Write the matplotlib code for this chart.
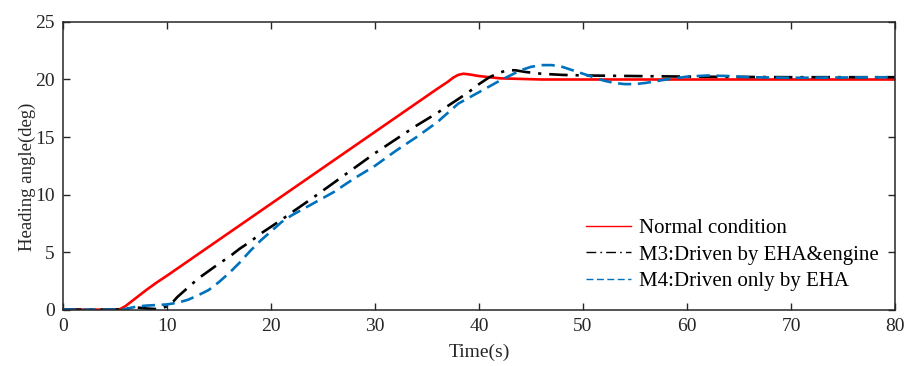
import numpy as np
import matplotlib.pyplot as plt

plt.rcParams['font.family'] = ['Liberation Serif', 'DejaVu Serif']

# Normal condition
t_red = [0, 5, 5.5, 6, 6.5, 7, 8, 9, 10, 12, 14, 16, 18, 20, 22, 24, 26, 28, 30,
         32, 34, 36, 37, 37.5, 38, 38.5, 39, 40, 41, 42, 44, 46, 80]
v_red = [0, 0, 0.05, 0.3, 0.65, 1.0, 1.7, 2.35, 2.95, 4.2, 5.45, 6.7, 7.95, 9.2,
         10.45, 11.7, 12.95, 14.2, 15.45, 16.7, 17.95, 19.2, 19.8, 20.15, 20.4,
         20.5, 20.45, 20.3, 20.2, 20.1, 20.05, 20.0, 20.0]

# M3: Driven by EHA&engine
t_m3 = [0, 5, 6, 6.5, 7, 7.5, 8, 9, 9.5, 10, 10.6, 11, 12, 13, 14, 15, 16, 17, 18,
        19, 20, 21, 22, 24, 26, 28, 30, 32, 34, 36, 37, 38, 39, 40, 41, 42, 42.7,
        43.5, 44.5, 46, 48, 50, 55, 60, 70, 80]
v_m3 = [0, 0, 0.05, 0.15, 0.2, 0.15, 0.1, 0.05, 0.1, 0.3, 0.7, 1.1, 1.9, 2.7, 3.35,
        4.0, 4.6, 5.3, 5.9, 6.6, 7.2, 7.8, 8.45, 9.7, 11.0, 12.3, 13.6, 14.8, 16.0,
        17.1, 17.7, 18.3, 18.9, 19.6, 20.2, 20.6, 20.8, 20.8, 20.65, 20.5, 20.4,
        20.35, 20.3, 20.25, 20.2, 20.2]

# M4: Driven only by EHA
t_m4 = [0, 5, 6, 7, 8, 9, 10, 11, 12, 13, 14, 15, 16, 17, 18, 19, 20, 21, 22, 24,
        26, 28, 30, 32, 34, 36, 38, 40, 42, 43, 44, 45, 46, 47, 48, 49, 50, 51, 52,
        53, 54, 55, 56, 57, 58, 60, 62, 64, 66, 70, 80]
v_m4 = [0, 0, 0.05, 0.25, 0.35, 0.4, 0.45, 0.6, 0.85, 1.25, 1.7, 2.4, 3.2, 4.1, 5.1,
        6.0, 6.8, 7.6, 8.2, 9.2, 10.2, 11.4, 12.5, 13.8, 15.0, 16.3, 17.9, 18.9,
        19.9, 20.35, 20.8, 21.1, 21.25, 21.25, 21.1, 20.8, 20.5, 20.2, 19.9, 19.7,
        19.6, 19.6, 19.7, 19.85, 20.0, 20.25, 20.35, 20.3, 20.2, 20.15, 20.2]

labels = ['Normal condition', 'M3:Driven by EHA&engine', 'M4:Driven only by EHA']

fig = plt.figure(figsize=(9.18, 3.66), dpi=100)
ax = fig.add_axes([0.0686, 0.154, 0.9064, 0.786])

ax.plot(t_red, v_red, color='#FF0000', linewidth=1.9, label=labels[0])
ax.plot(t_m3, v_m3, color='black', linewidth=1.9, dashes=(7, 3, 1.2, 3), label=labels[1])
ax.plot(t_m4, v_m4, color='#0072BD', linewidth=1.9, dashes=(5, 2.5), label=labels[2])

ax.set_xlim(0, 80)
ax.set_ylim(0, 25)
ax.set_xticks(np.arange(0, 81, 10))
ax.set_yticks(np.arange(0, 26, 5))
ax.tick_params(direction='in', top=True, right=True, length=5, width=1,
               labelsize=14, colors='#262626', pad=6)
for s in ax.spines.values():
    s.set_color('#262626')
    s.set_linewidth(1.1)

ax.set_xlabel('Time(s)', fontsize=14, color='#262626', labelpad=6)
ax.set_ylabel('Heading angle(deg)', fontsize=13.5, color='#262626')
ax.yaxis.set_label_coords(-0.033, 0.46)

leg = ax.legend(loc='lower right', bbox_to_anchor=(0.99, 0.035), borderaxespad=0,
                frameon=False, fontsize=15, handlelength=2.2, handletextpad=0.35,
                labelspacing=0.33)
for line in leg.get_lines():
    line.set_linewidth(1.0)

fig.savefig('out.png', dpi=100)
